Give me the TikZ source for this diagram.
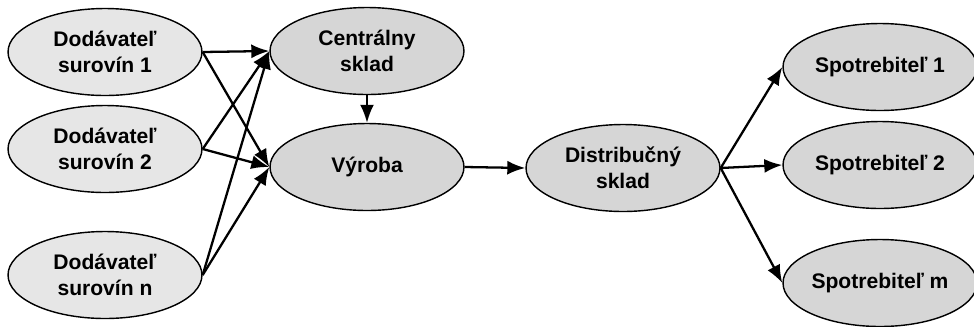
\documentclass[tikz,border=0pt]{standalone}
\usepackage{fontspec}
\setmainfont{Liberation Sans}
\usetikzlibrary{shapes.geometric,arrows.meta}
\definecolor{lightfill}{RGB}{230,230,230}
\definecolor{midfill}{RGB}{214,214,214}

\begin{document}
\begin{tikzpicture}[x=0.02cm,y=-0.02cm,
    stage/.style={ellipse,draw,line width=0.8pt,fill=midfill,minimum width=3.88cm,
        minimum height=1.74cm,inner sep=0pt,align=center,font=\bfseries\fontsize{12}{15}\selectfont},
    supplier/.style={stage,fill=lightfill},
    flow/.style={line width=1.3pt,-{Latex[length=3.6mm,width=2.8mm]}}]
    \useasboundingbox (0,0) rectangle (974,326);

    % Suppliers
    \node[supplier] (sup1) at (105,52) {Dodávateľ\\surovín 1};
    \node[supplier] (sup2) at (105,149) {Dodávateľ\\surovín 2};
    \node[supplier] (supn) at (105,275) {Dodávateľ\\surovín n};

    % Central storage, production, distribution
    \node[stage] (central) at (367,51) {Centrálny\\sklad};
    \node[stage] (prod) at (367,167) {Výroba};
    \node[stage] (distr) at (623,168) {Distribučný\\sklad};

    % Consumers
    \node[stage] (con1) at (880,67) {Spotrebiteľ 1};
    \node[stage] (con2) at (880,165) {Spotrebiteľ 2};
    \node[stage] (conm) at (880,283) {Spotrebiteľ m};

    % Flows
    \foreach \s in {sup1,sup2,supn} {
        \draw[flow] (\s.east) -- (central.west);
        \draw[flow] (\s.east) -- (prod.west);
    }
    \draw[flow] (central.south) -- (prod.north);
    \draw[flow] (prod.east) -- (distr.west);
    \foreach \c in {con1,con2,conm}
        \draw[flow] (distr.east) -- (\c.west);
\end{tikzpicture}
\end{document}
